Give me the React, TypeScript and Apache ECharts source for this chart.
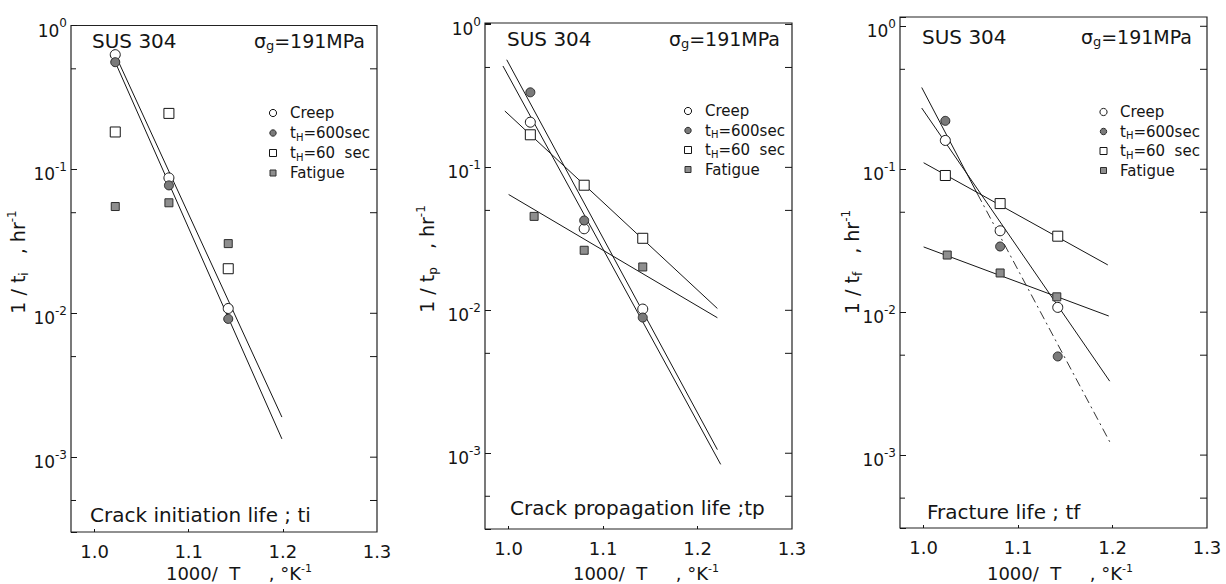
import { useEffect, useRef } from "react";
import * as echarts from "echarts";

const FONT = '"DejaVu Sans", "Liberation Sans", sans-serif';
const INK = "#151515";

// Shared axes
const X_MIN = 0.975;
const X_MAX = 1.3;
const X_LABELS = [1.0, 1.1, 1.2, 1.3];
const X_TICKS = [1.0, 1.1, 1.2];
const Y_DECADES = [1, 0.1, 0.01, 0.001];
const Y_HALVES = [0.5, 0.05, 0.005, 0.0005];

const SERIES_NAMES = ["Creep", "tH=600sec", "tH=60 sec", "Fatigue"];

// Crack initiation life ; ti
const INIT_X = [1.022, 1.079, 1.142];
const INIT_CREEP = [0.627, 0.0873, 0.0108];
const INIT_HOLD600 = [0.556, 0.0774, 0.00914];
const INIT_HOLD60 = [0.182, 0.245, 0.0204];
const INIT_FATIGUE = [0.0552, 0.0586, 0.0305];
const INIT_CREEP_FIT = [[1.022, 0.627], [1.199, 0.0019]];
const INIT_HOLD600_FIT = [[1.022, 0.556], [1.199, 0.00134]];

// Crack propagation life ; tp
const PROP_X = [1.023, 1.08, 1.142];
const PROP_FATIGUE_X = [1.027, 1.08, 1.142];
const PROP_CREEP = [0.207, 0.0372, 0.0102];
const PROP_HOLD600 = [0.335, 0.0425, 0.0089];
const PROP_HOLD60 = [0.169, 0.075, 0.0319];
const PROP_FATIGUE = [0.0454, 0.0263, 0.0201];
const PROP_CREEP_FIT = [[0.994, 0.512], [1.2245, 0.000836]];
const PROP_HOLD600_FIT = [[0.998, 0.566], [1.221, 0.00106]];
const PROP_HOLD60_FIT = [[0.996, 0.248], [1.221, 0.0103]];
const PROP_FATIGUE_FIT = [[1.0, 0.0646], [1.221, 0.00887]];

// Fracture life ; tf
const FRAC_X = [1.023, 1.081, 1.142];
const FRAC_FATIGUE_X = [1.025, 1.081, 1.141];
const FRAC_CREEP = [0.159, 0.0371, 0.0108];
const FRAC_HOLD600 = [0.218, 0.0288, 0.0049];
const FRAC_HOLD60 = [0.0904, 0.0575, 0.034];
const FRAC_FATIGUE = [0.0251, 0.0188, 0.0128];
const FRAC_CREEP_FIT = [[0.998, 0.268], [1.197, 0.00329]];
const FRAC_HOLD600_FIT = [[0.998, 0.373], [1.057, 0.0672]];
const FRAC_HOLD600_EXT = [[1.057, 0.0672], [1.197, 0.00124]];
const FRAC_HOLD60_FIT = [[1.0, 0.111], [1.195, 0.0214]];
const FRAC_FATIGUE_FIT = [[1.0, 0.0286], [1.196, 0.0094]];

const pts = (xs: number[], ys: number[]) => xs.map((x, i) => [x, ys[i]]);

const PANELS = [
  {
    title: "Crack initiation life ; ti",
    sub: "i",
    points: [
      pts(INIT_X, INIT_CREEP),
      pts(INIT_X, INIT_HOLD600),
      pts(INIT_X, INIT_HOLD60),
      pts(INIT_X, INIT_FATIGUE),
    ],
    fits: [
      { data: INIT_CREEP_FIT, dashed: false },
      { data: INIT_HOLD600_FIT, dashed: false },
    ],
  },
  {
    title: "Crack propagation life ;tp",
    sub: "p",
    points: [
      pts(PROP_X, PROP_CREEP),
      pts(PROP_X, PROP_HOLD600),
      pts(PROP_X, PROP_HOLD60),
      pts(PROP_FATIGUE_X, PROP_FATIGUE),
    ],
    fits: [
      { data: PROP_CREEP_FIT, dashed: false },
      { data: PROP_HOLD600_FIT, dashed: false },
      { data: PROP_HOLD60_FIT, dashed: false },
      { data: PROP_FATIGUE_FIT, dashed: false },
    ],
  },
  {
    title: "Fracture life ; tf",
    sub: "f",
    points: [
      pts(FRAC_X, FRAC_CREEP),
      pts(FRAC_X, FRAC_HOLD600),
      pts(FRAC_X, FRAC_HOLD60),
      pts(FRAC_FATIGUE_X, FRAC_FATIGUE),
    ],
    fits: [
      { data: FRAC_CREEP_FIT, dashed: false },
      { data: FRAC_HOLD600_FIT, dashed: false },
      { data: FRAC_HOLD600_EXT, dashed: true },
      { data: FRAC_HOLD60_FIT, dashed: false },
      { data: FRAC_FATIGUE_FIT, dashed: false },
    ],
  },
];

// Plot frames and text anchors for each panel
const LAYOUT = [
  {
    left: 71, top: 25.5, width: 306, height: 506.5, yMinExp: -3.52, yMaxExp: 0,
    sus: [92, 41], sigma: [365, 41], legend: [273, 290, 113, 20],
    title: [90, 515], yName: [18, 262], xName: [239, 573],
  },
  {
    left: 485, top: 23, width: 307, height: 506, yMinExp: -3.53, yMaxExp: 0.01,
    sus: [507, 39], sigma: [780, 39], legend: [688, 705, 111, 19.5],
    title: [510, 508], yName: [427, 259], xName: [646, 573],
  },
  {
    left: 900, top: 17, width: 307, height: 511, yMinExp: -3.51, yMaxExp: 0.065,
    sus: [922, 37], sigma: [1192, 37], legend: [1103.5, 1120, 112, 19.5],
    title: [927, 512], yName: [852, 262], xName: [1060, 573],
  },
];

const MARKERS = [
  { symbol: "circle", size: 10, color: "#ffffff", border: INK },
  { symbol: "circle", size: 9, color: "#7a7a7a", border: "#2a2a2a" },
  { symbol: "rect", size: 10, color: "#ffffff", border: INK },
  { symbol: "rect", size: 8, color: "#8e8e8e", border: "#2e2e2e" },
];

const LEGEND_TEXT = ["Creep", "t{s|H}=600sec", "t{s|H}=60  sec", "Fatigue"];

function subStyle(size: number) {
  return { fontFamily: FONT, fontSize: size, lineHeight: size, verticalAlign: "bottom", fill: INK };
}
function supStyle(size: number) {
  return { fontFamily: FONT, fontSize: size, lineHeight: size, verticalAlign: "top", fill: INK };
}

function text(x: number, y: number, str: string, size: number, align: string, extra: any = {}) {
  return {
    type: "text",
    x,
    y,
    silent: true,
    ...extra,
    style: {
      text: str,
      fill: INK,
      fontFamily: FONT,
      fontSize: size,
      align,
      verticalAlign: "middle",
      ...(extra.style || {}),
    },
  };
}

function buildOption() {
  const grid = LAYOUT.map((l) => ({
    left: l.left,
    top: l.top,
    width: l.width,
    height: l.height,
    show: true,
    borderColor: "#222",
    borderWidth: 1.2,
    backgroundColor: "transparent",
  }));

  const xAxis = LAYOUT.map((_, i) => ({
    gridIndex: i,
    type: "value",
    min: X_MIN,
    max: X_MAX,
    axisLine: { show: false },
    splitLine: { show: false },
    axisTick: { show: true, inside: true, length: 3, customValues: X_TICKS, lineStyle: { color: INK } },
    axisLabel: {
      customValues: X_LABELS,
      formatter: (v: number) => v.toFixed(1),
      fontFamily: FONT,
      fontSize: 18,
      color: INK,
      margin: 10,
    },
  }));

  const yAxis = LAYOUT.map((l, i) => ({
    gridIndex: i,
    type: "log",
    logBase: 10,
    min: Math.pow(10, l.yMinExp),
    max: Math.pow(10, l.yMaxExp),
    axisLine: { show: false },
    splitLine: { show: false },
    axisTick: { show: true, inside: true, length: 6, lineStyle: { color: INK } },
    axisLabel: {
      margin: 4,
      formatter: (v: number) => {
        const e = Math.log10(v);
        const r = Math.round(e);
        if (Math.abs(e - r) > 1e-6) return "";
        return `{b|10}{s|${r}}`;
      },
      padding: [5, 0, 0, 0],
      rich: {
        b: { fontFamily: FONT, fontSize: 17, lineHeight: 22, verticalAlign: "bottom", color: INK },
        s: { fontFamily: FONT, fontSize: 12, lineHeight: 12, verticalAlign: "top", color: INK },
      },
    },
  }));

  const series: any[] = [];
  PANELS.forEach((p, i) => {
    p.fits.forEach((f) => {
      series.push({
        type: "line",
        xAxisIndex: i,
        yAxisIndex: i,
        data: f.data,
        symbol: "none",
        silent: true,
        z: 2,
        lineStyle: f.dashed
          ? { color: "#333", width: 1, type: [9, 4, 2, 4] }
          : { color: INK, width: 1 },
      });
    });
    p.points.forEach((d, k) => {
      const m = MARKERS[k];
      series.push({
        type: "scatter",
        name: SERIES_NAMES[k],
        xAxisIndex: i,
        yAxisIndex: i,
        data: d,
        symbol: m.symbol,
        symbolSize: m.size,
        z: 3 + k,
        silent: true,
        itemStyle: { color: m.color, borderColor: m.border, borderWidth: 1, opacity: 1 },
      });
    });
    // Half-decade ticks on the left, all ticks on the right frame edge
    series.push({
      type: "custom",
      xAxisIndex: i,
      yAxisIndex: i,
      silent: true,
      z: 10,
      data: [
        ...Y_DECADES.map((v) => [X_MIN, v, 1]),
        ...Y_HALVES.map((v) => [X_MIN, v, 0]),
      ],
      renderItem: (params: any, api: any) => {
        const cs = params.coordSys;
        const y = api.coord([api.value(0), api.value(1)])[1];
        const major = api.value(2) === 1;
        const st = { stroke: INK, lineWidth: 1 };
        const children: any[] = [
          { type: "line", shape: { x1: cs.x + cs.width - 7, y1: y, x2: cs.x + cs.width, y2: y }, style: st },
        ];
        if (!major) {
          children.push({ type: "line", shape: { x1: cs.x, y1: y, x2: cs.x + 5, y2: y }, style: st });
        }
        return { type: "group", children };
      },
    });
  });

  const graphic: any[] = [];
  LAYOUT.forEach((l, i) => {
    const p = PANELS[i];
    graphic.push(text(l.sus[0], l.sus[1], "SUS 304", 20, "left"));
    graphic.push(
      text(l.sigma[0], l.sigma[1], "σ{s|g}=191MPa", 19, "right", {
        style: { lineHeight: 22, rich: { s: subStyle(13) } },
      })
    );
    graphic.push(text(l.title[0], l.title[1], p.title, 20, "left"));
    graphic.push(
      text(l.yName[0], l.yName[1], `1 / t{s|${p.sub}}   , hr{p|-1}`, 19, "center", {
        rotation: Math.PI / 2,
        style: { lineHeight: 24, rich: { s: subStyle(12), p: supStyle(12) } },
      })
    );
    graphic.push(
      text(l.xName[0], l.xName[1], "1000/  T     , °K{p|-1}", 18, "center", {
        style: { lineHeight: 20, rich: { p: supStyle(11) } },
      })
    );
    const [mx, tx, y0, step] = l.legend;
    LEGEND_TEXT.forEach((t, k) => {
      const y = y0 + k * step;
      const m = MARKERS[k];
      if (m.symbol === "circle") {
        graphic.push({
          type: "circle",
          silent: true,
          shape: { cx: mx, cy: y, r: k === 0 ? 3.6 : 3.2 },
          style: { fill: m.color, stroke: m.border, lineWidth: 1 },
        });
      } else {
        const s = k === 2 ? 7 : 6;
        graphic.push({
          type: "rect",
          silent: true,
          shape: { x: mx - s / 2, y: y - s / 2, width: s, height: s },
          style: { fill: m.color, stroke: m.border, lineWidth: 1 },
        });
      }
      graphic.push(
        text(tx, y, t, 15, "left", { style: { lineHeight: 18, rich: { s: subStyle(10) } } })
      );
    });
  });

  return {
    animation: false,
    backgroundColor: "#ffffff",
    grid,
    xAxis,
    yAxis,
    series,
    graphic,
  };
}

export default function App() {
  const ref = useRef<HTMLDivElement>(null);
  useEffect(() => {
    document.body.style.margin = "0";
    if (!ref.current) return;
    const chart = echarts.init(ref.current, null, { renderer: "svg" });
    chart.setOption(buildOption() as any);
    return () => chart.dispose();
  }, []);
  return <div ref={ref} style={{ width: 1226, height: 584 }} />;
}
